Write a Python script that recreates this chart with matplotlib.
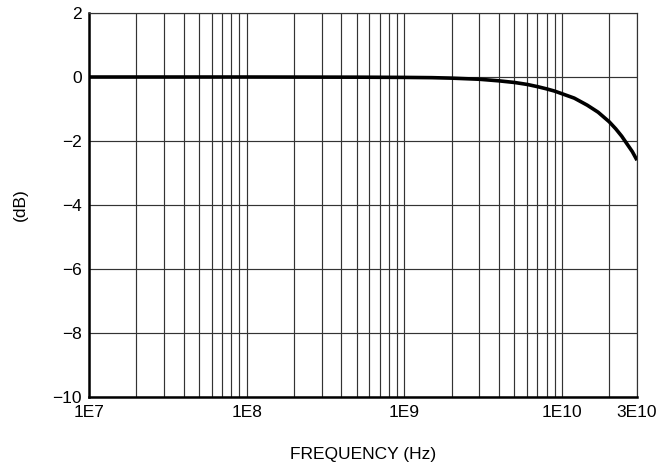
import numpy as np
import matplotlib.pyplot as plt
from matplotlib.ticker import FixedLocator, NullFormatter

plt.rcParams['font.family'] = ['Liberation Sans', 'DejaVu Sans']

# insertion loss vs frequency
freq_hz = [1e7, 1e8, 5e8, 1e9, 1.5e9, 2e9, 3e9, 4e9, 5e9, 6e9, 7e9, 8e9, 9e9,
           1e10, 1.2e10, 1.45e10, 1.7e10, 2e10, 2.2e10, 2.4e10, 2.6e10, 2.8e10, 3e10]
loss_db = [0.0, 0.0, -0.005, -0.012, -0.02, -0.035, -0.07, -0.12, -0.17, -0.23, -0.3, -0.37, -0.44,
           -0.52, -0.66, -0.88, -1.1, -1.40, -1.62, -1.85, -2.1, -2.33, -2.6]

xtick_vals = [1e7, 1e8, 1e9, 1e10, 3e10]
xtick_labels = ["1E7", "1E8", "1E9", "1E10", "3E10"]
ytick_vals = [2, 0, -2, -4, -6, -8, -10]

fig = plt.figure(figsize=(6.61, 4.70), dpi=100)
ax = fig.add_axes([0.1346, 0.1553, 0.8291, 0.817])

ax.plot(freq_hz, loss_db, color="black", lw=2.6, solid_capstyle="butt", zorder=3)

ax.set_xscale("log")
ax.set_xlim(1e7, 3e10)
ax.set_ylim(-10, 2)

# minor grid at 2..9 of every decade
minor = [m * 10.0 ** e for e in range(7, 11) for m in range(2, 10)]
minor = [v for v in minor if v < 3e10]
ax.xaxis.set_minor_locator(FixedLocator(minor))
ax.xaxis.set_minor_formatter(NullFormatter())
ax.set_xticks(xtick_vals)
ax.set_xticklabels(xtick_labels)
ax.set_yticks(ytick_vals)

ax.grid(True, which="both", axis="x", color="#333333", lw=0.85)
ax.grid(True, which="major", axis="y", color="#333333", lw=0.85)
ax.tick_params(which="both", length=0, labelsize=12.5, colors="black", pad=6)
ax.tick_params(axis="y", pad=5)

for side in ("left", "bottom"):
    ax.spines[side].set_linewidth(1.8)
    ax.spines[side].set_color("black")
for side in ("top", "right"):
    ax.spines[side].set_linewidth(0.85)
    ax.spines[side].set_color("#333333")

ax.set_xlabel("FREQUENCY (Hz)", fontsize=12.5, labelpad=19)
ax.set_ylabel("(dB)", fontsize=12.5, labelpad=18)

fig.savefig("out.png", dpi=100)
